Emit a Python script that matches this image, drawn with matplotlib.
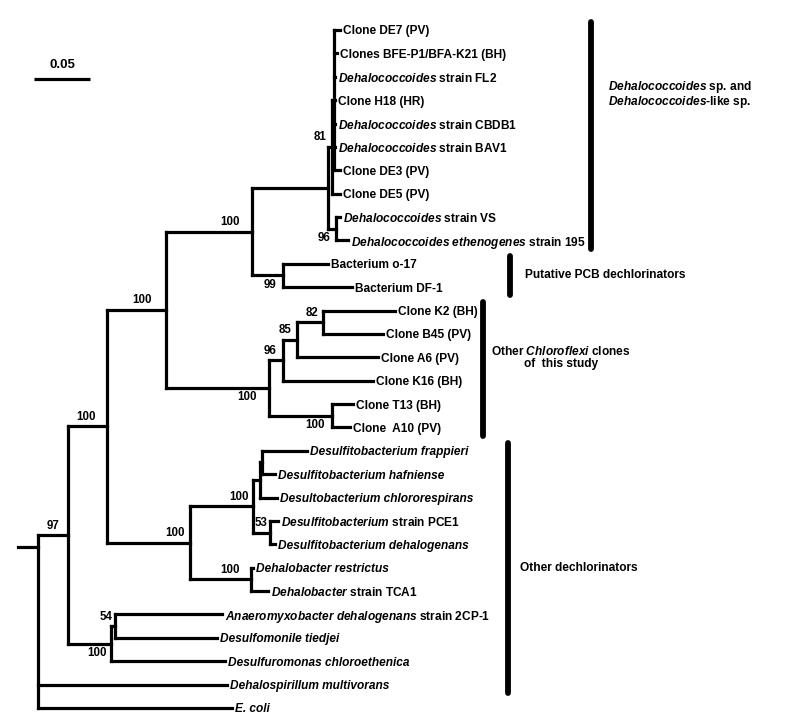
import matplotlib
matplotlib.use("Agg")
import matplotlib.pyplot as plt

# ---------------- data ----------------
# leaf labels (top to bottom); text between * * is italic
leaf_labels = [
    "Clone DE7 (PV)",
    "Clones BFE-P1/BFA-K21 (BH)",
    "*Dehalococcoides* strain FL2",
    "Clone H18 (HR)",
    "*Dehalococcoides* strain CBDB1",
    "*Dehalococcoides* strain BAV1",
    "Clone DE3 (PV)",
    "Clone DE5 (PV)",
    "*Dehalococcoides* strain VS",
    "*Dehalococcoides ethenogenes* strain 195",
    "Bacterium o-17",
    "Bacterium DF-1",
    "Clone K2 (BH)",
    "Clone B45 (PV)",
    "Clone A6 (PV)",
    "Clone K16 (BH)",
    "Clone T13 (BH)",
    "Clone  A10 (PV)",
    "*Desulfitobacterium frappieri*",
    "*Desulfitobacterium hafniense*",
    "*Desultobacterium chlororespirans*",
    "*Desulfitobacterium* strain PCE1",
    "*Desulfitobacterium dehalogenans*",
    "*Dehalobacter restrictus*",
    "*Dehalobacter* strain TCA1",
    "*Anaeromyxobacter dehalogenans* strain 2CP-1",
    "*Desulfomonile tiedjei*",
    "*Desulfuromonas chloroethenica*",
    "*Dehalospirillum multivorans*",
    "*E. coli*",
]
leaf_parent = ["nA", "nA", "nA", "nA", "nA", "nA", "nA", "n81", "n96a", "n96a",
               "pcb", "pcb", "n82", "n82", "n85", "n96b", "nT", "nT",
               "d3", "d3", "d2", "n53", "n53", "dhb", "dhb",
               "n54", "n54", "a100", "root", "root"]
leaf_branch = [0.0054, 0.0027, 0.0009, 0.0009, 0.0009, 0.0009, 0.0054, 0.0071, 0.0036, 0.0107,
               0.0402, 0.0616, 0.0643, 0.0536, 0.0723, 0.0804, 0.0188, 0.0161,
               0.0402, 0.0116, 0.0152, 0.0071, 0.0045, 0.0018, 0.0152,
               0.0955, 0.0911, 0.1018, 0.1688, 0.1732]

# internal nodes (parents listed before children)
node_names = ["root", "n97", "n107", "n166", "n252", "dhc", "n81", "nA", "n96a", "pcb",
              "chl", "n96b", "n85", "n82", "nT", "n190", "d1", "d2", "d3", "n53",
              "dhb", "a100", "n54"]
node_parent = [None, "root", "n97", "n107", "n166", "n252", "dhc", "n81", "dhc", "n252",
               "n166", "chl", "n96b", "n85", "chl", "n107", "n190", "d1", "d2", "d1",
               "n190", "n97", "a100"]
node_branch = [0.0, 0.0268, 0.0348, 0.0527, 0.0768, 0.0679, 0.0036, 0.0018, 0.0071, 0.0277,
               0.0920, 0.0125, 0.0125, 0.0232, 0.0563, 0.0741, 0.0563, 0.0063, 0.0018, 0.0152,
               0.0545, 0.0384, 0.0036]

# bootstrap support
support_nodes = ["n97", "n107", "n166", "n252", "n81", "n96a", "pcb", "chl", "n96b", "n85",
                 "n82", "nT", "n190", "d1", "n53", "dhb", "a100", "n54"]
support_values = [97, 100, 100, 100, 81, 96, 99, 100, 96, 85,
                  82, 100, 100, 100, 53, 100, 100, 54]
support_side = ["above", "above", "above", "above", "above", "below", "below", "below", "above", "above",
                "above", "below", "above", "above", "above", "above", "below", "above"]
# horizontal offset of each support label from its node (points)
support_dx = [-6, -8, -10, -9, -4, -4, -5, -9, -5, -4,
              -3, -5, -4, -3, -1.5, -8, -3, -2]

# clade brackets: (first leaf, last leaf, label)
clade_first = [0, 10, 12, 18]
clade_last = [9, 11, 17, 28]
clade_text = ["*Dehalococcoides* sp. and\n*Dehalococcoides*-like sp.",
              "Putative PCB dechlorinators",
              "Other *Chloroflexi* clones\nof  this study",
              "Other dechlorinators"]

scale_value = 0.05

# ---------------- helpers ----------------
def to_math(s):
    out = []
    for k, seg in enumerate(s.split("*")):
        if k % 2 == 1:
            parts = []
            for w in seg.split(" "):
                parts.append(r"$\mathit{" + w + "}$" if w else "")
            out.append(" ".join(parts))
        else:
            out.append(seg)
    return "".join(out)

def line_to_math(s):
    return "\n".join(to_math(l) for l in s.split("\n"))

plt.rcParams["font.family"] = ["Liberation Sans", "DejaVu Sans"]
plt.rcParams["font.weight"] = "bold"
plt.rcParams["mathtext.fontset"] = "custom"
plt.rcParams["mathtext.it"] = "Liberation Sans:italic:bold"
plt.rcParams["mathtext.rm"] = "Liberation Sans:bold"
plt.rcParams["mathtext.bf"] = "Liberation Sans:bold"

# ---------------- layout computation ----------------
xpos = {}
for nm, par, bl in zip(node_names, node_parent, node_branch):
    xpos[nm] = 0.0 if par is None else xpos[par] + bl

children = {nm: [] for nm in node_names}
for nm, par in zip(node_names, node_parent):
    if par is not None:
        children[par].append(nm)
ypos = {}
for i, (par, bl) in enumerate(zip(leaf_parent, leaf_branch)):
    key = ("leaf", i)
    xpos[key] = xpos[par] + bl
    ypos[key] = i
    children[par].append(key)

def get_y(n):
    if n in ypos:
        return ypos[n]
    ys = [get_y(c) for c in children[n]]
    ypos[n] = (min(ys) + max(ys)) / 2.0
    return ypos[n]

for nm in node_names:
    get_y(nm)
ypos["root"] = get_y("n97") + 0.5  # root stub position

# ---------------- draw ----------------
fig = plt.figure(figsize=(8, 7.22), dpi=100)
ax = fig.add_axes([0, 0, 1, 1])
upx = 0.05 / 56.0  # tree units per pixel
ax.set_xlim(-38 * upx, 762 * upx)
ax.set_ylim(29.6, -1.283)
ax.axis("off")

lw = 2.3
kw = dict(color="black", lw=lw, solid_capstyle="projecting")
for nm in node_names:
    ys = [ypos[c] for c in children[nm]]
    ax.plot([xpos[nm], xpos[nm]], [min(ys), max(ys)], **kw)
    for c in children[nm]:
        ax.plot([xpos[nm], xpos[c]], [ypos[c], ypos[c]], **kw)
ax.plot([-20 * upx, 0], [ypos["root"], ypos["root"]], **kw)

fs = 8.6
for i, lab in enumerate(leaf_labels):
    full_italic = lab.startswith("*") and lab.endswith("*") and lab.count("*") == 2
    if full_italic:
        txt, style = lab.strip("*"), "italic"
    else:
        txt, style = to_math(lab), "normal"
    ax.annotate(txt, (xpos[("leaf", i)], i), xytext=(2, 0),
                textcoords="offset points", ha="left", va="center_baseline",
                fontsize=fs, fontweight="bold", fontstyle=style)

for nm, val, side, dx in zip(support_nodes, support_values, support_side, support_dx):
    dy = 2.5 if side == "above" else -2.5
    ax.annotate(str(val), (xpos[nm], ypos[nm]), xytext=(dx, dy),
                textcoords="offset points", ha="right",
                va="bottom" if side == "above" else "top",
                fontsize=8.3, fontweight="bold")

# clade bars
bar_x_px = [591, 510, 483, 508]
text_dx = [12, 11, 6, 9]
for f, l, txt, bx, tdx in zip(clade_first, clade_last, clade_text, bar_x_px, text_dx):
    xb = (bx - 38) * upx
    ax.plot([xb, xb], [f - 0.35, l + 0.35], color="black", lw=4.2, solid_capstyle="round")
    ymid = (f + l) / 2.0
    if f == 0:
        ymid = 2.75
    if f == 12:
        ymid = 14.0
    ax.annotate(line_to_math(txt), (xb, ymid), xytext=(tdx, 0), textcoords="offset points",
                ha="left", va="center", fontsize=fs, fontweight="bold",
                multialignment="center" if f == 12 else "left",
                linespacing=0.95)

# scale bar
sx0 = (34 - 38) * upx
ax.plot([sx0, sx0 + scale_value], [(79 - 30) / 23.38] * 2, color="black", lw=2.3,
        solid_capstyle="butt")
ax.text(sx0 + scale_value / 2, (79 - 30) / 23.38 - 0.35, f"{scale_value:.2f}", ha="center",
        va="bottom", fontsize=9.5, fontweight="bold")

fig.savefig("out.png", dpi=100, facecolor="white")
